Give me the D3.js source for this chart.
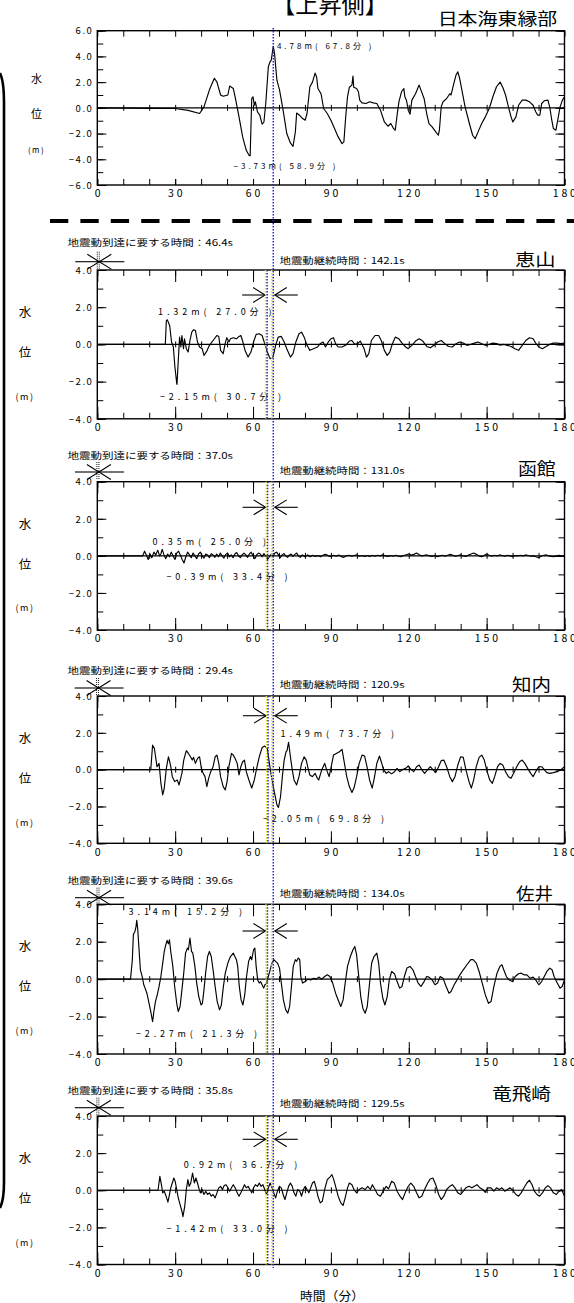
<!DOCTYPE html>
<html>
<head>
<meta charset="utf-8">
<script src="https://cdn.jsdelivr.net/npm/d3@7"></script>
<style>
  body { margin: 0; background: #fff; }
  svg { display: block; }
  text { font-family: "Noto Sans CJK JP", "Noto Sans", sans-serif; fill: #000; }
</style>
</head>
<body>
<script>
// ---- water level series (time [min], level [m]) ----
const levelSource = [[0,0],[10,-0.02],[20,-0.04],[30,-0.05],[35,-0.2],[39.4,-0.44],[41.1,0.08],[43.2,1.4],[45.1,2.3],[46.1,2.0],[47.5,1.0],[48.5,0.9],[50.3,1.0],[51.0,1.7],[52.4,1.5],[53.1,0.86],[54.6,-0.7],[56.0,-2.26],[57.4,-3.3],[58.5,-3.7],[58.9,-3.73],[59.5,0.73],[60.0,0.86],[60.5,0.2],[60.9,0.47],[61.7,-0.3],[62.6,-0.57],[63.5,-1.27],[64.2,-1.1],[64.9,0.34],[65.9,3.2],[66.6,3.6],[67.0,3.7],[67.8,4.78],[68.3,4.2],[69.2,2.15],[70.2,1.4],[71.6,-0.2],[73.0,-2.0],[74.4,-2.73],[75.4,-3.0],[76.3,-1.9],[76.8,-0.4],[77.9,-0.57],[79.1,-0.83],[80.1,-0.96],[80.8,-0.44],[81.9,1.64],[82.9,2.0],[83.9,2.7],[84.5,2.4],[85.0,1.5],[86.2,1.1],[87.2,-0.05],[88.6,-0.44],[90.0,-0.96],[91.4,-1.6],[92.8,-2.26],[94.3,-2.78],[95.0,-2.65],[95.7,-0.7],[96.4,0.86],[97.1,1.6],[98.1,1.77],[98.5,2.47],[98.8,1.6],[99.9,1.5],[100.6,1.25],[101.1,0.6],[102.0,0.39],[103.5,0.34],[104.9,0.47],[106.3,0.39],[107.7,0.34],[109.1,-0.18],[110.6,-1.1],[112.0,-1.43],[113.1,-1.22],[114.1,-1.6],[114.8,-1.74],[115.5,-0.57],[116.2,0.47],[117.2,1.25],[118.1,1.5],[118.5,0.86],[119.1,0.6],[119.8,-0.18],[120.5,-0.49],[121.2,0.6],[122.6,1.1],[124.0,1.77],[124.7,1.38],[125.9,0.73],[126.9,-0.44],[127.8,-1.22],[129.0,-1.48],[130.4,-1.87],[131.4,-2.13],[131.8,-1.74],[132.5,0.08],[133.2,0.47],[134.6,0.73],[135.8,1.1],[136.3,1.0],[137.2,1.77],[138.2,2.55],[138.9,2.8],[139.6,2.3],[140.6,1.25],[141.7,0.08],[143.2,-1.1],[144.6,-2.13],[145.6,-2.4],[146.7,-1.87],[148.1,-1.22],[149.5,-0.7],[151.0,-0.05],[152.4,0.86],[153.8,1.64],[155.2,2.0],[156.2,1.6],[157.3,1.0],[158.4,0.08],[159.4,-0.7],[160.1,-1.1],[161.3,-0.7],[162.3,0.2],[163.7,0.6],[165.1,0.6],[166.5,0.47],[167.9,0.2],[168.9,-0.3],[169.7,-0.57],[170.5,-0.57],[171.2,0.34],[172.2,0.55],[173.6,0.6],[174.3,0.08],[175.0,-0.83],[175.7,-1.6],[176.7,-1.74],[177.4,-0.96],[178.3,0.08],[179.2,0.6],[180,0.86]];

const levelEsan = [[0,0],[26.2,0],[26.6,1.29],[27.0,1.32],[27.9,1.0],[28.6,0.13],[29.3,-0.14],[29.9,-1.2],[30.6,-2.1],[30.7,-2.15],[31.2,-0.86],[31.7,0.39],[32.2,-0.14],[32.6,0.48],[33.2,-0.23],[33.6,0.3],[34.3,-0.23],[35.0,-0.41],[35.7,0.21],[36.4,0.66],[37.1,0.79],[37.8,0.75],[38.6,0.13],[39.4,-0.14],[40.4,-0.23],[41.1,-0.59],[42.2,-0.36],[43.2,-0.05],[44.6,0.21],[46.1,0.48],[46.8,0.43],[47.5,-0.32],[48.5,-0.5],[49.3,0.07],[49.9,0.36],[50.7,0.13],[51.3,0.3],[52.4,0.36],[53.6,0.3],[54.6,0.43],[55.3,0.48],[56.0,0.18],[57.0,-0.36],[58.1,-0.68],[59.2,-0.41],[60.2,0.13],[61.2,0.54],[62.4,0.57],[63.5,0.48],[64.5,0.04],[65.5,-0.41],[66.6,-0.77],[67.7,-0.68],[68.7,-0.05],[69.7,0.39],[70.9,0.43],[72.0,0.13],[73.0,-0.23],[74.4,-0.68],[75.4,-0.5],[76.5,0.13],[77.7,0.57],[78.7,0.66],[79.7,0.39],[80.8,-0.05],[81.9,-0.32],[83.3,-0.23],[84.8,-0.14],[85.9,0.04],[87.0,0.13],[87.9,-0.14],[89.0,0.13],[90.0,0.3],[91.0,0.36],[91.8,0.04],[92.8,-0.14],[94.3,-0.14],[95.7,-0.05],[97.1,0.18],[98.1,0.21],[99.2,0],[100.3,0.04],[101.3,0.18],[102.8,-0.23],[103.7,-0.68],[104.6,-0.5],[105.6,0.21],[107.0,0.48],[108.4,0.48],[109.4,0.21],[110.6,-0.32],[111.7,-0.59],[112.7,-0.41],[113.7,0.04],[114.8,0.39],[116.2,0.3],[117.4,0.07],[118.8,-0.14],[119.8,-0.23],[121.2,-0.05],[122.6,0.18],[124.0,0.3],[125.4,0.18],[126.9,-0.11],[128.3,-0.18],[129.7,-0.05],[131.1,0.13],[132.5,0.21],[133.9,0.04],[135.3,-0.11],[136.8,-0.14],[138.2,0.04],[139.6,0.13],[141.0,0.07],[142.4,-0.05],[143.9,0],[145.3,0.07],[146.7,0.13],[148.1,0.04],[149.5,-0.05],[151.0,0],[152.4,0.07],[153.8,0.04],[155.2,-0.04],[156.6,0],[158.0,-0.05],[159.4,-0.11],[160.9,-0.23],[162.3,-0.32],[163.7,-0.05],[165.1,0.21],[166.5,0.36],[167.9,0.3],[168.9,0.07],[170.1,-0.14],[171.5,-0.23],[172.9,-0.11],[174.3,0],[175.7,0.07],[177.2,0.07],[178.6,0.04],[180,0.07]];

const levelHakodate = [[0,0],[17.5,0],[18.2,0.25],[18.9,0.05],[19.6,-0.2],[20.3,0.1],[21.0,-0.1],[21.8,0.2],[22.5,0.05],[23.3,0.3],[24.0,0.0],[24.5,0.1],[25.0,0.35],[25.7,0.05],[26.4,-0.15],[27.1,0.1],[27.8,-0.05],[28.5,0.2],[29.2,0.0],[29.9,-0.2],[30.6,0.15],[31.3,0.25],[32.0,0.05],[32.7,-0.2],[33.4,-0.39],[34.1,-0.05],[34.8,0.2],[35.5,0.05],[36.2,-0.1],[36.9,0.15],[37.6,0.0],[38.3,-0.15],[39.0,0.1],[39.7,0.2],[40.4,0.0],[41.1,-0.12],[41.8,0.1],[42.5,0.05],[43.2,-0.1],[43.9,0.12],[44.6,0.05],[45.3,-0.08],[46.0,0.1],[46.7,-0.05],[47.4,0.15],[48.1,0.0],[48.8,-0.12],[49.5,0.08],[50.2,0.15],[50.9,-0.05],[51.6,0.05],[52.3,-0.1],[53.0,0.1],[53.7,0.18],[54.4,0.0],[55.1,-0.1],[55.8,0.05],[56.5,0.15],[57.2,0.05],[57.9,-0.08],[58.6,0.1],[59.3,0.2],[60.0,0.0],[60.7,-0.15],[61.4,0.05],[62.1,0.15],[62.8,0.1],[63.5,-0.05],[64.2,0.12],[64.9,0.0],[65.6,-0.2],[66.3,-0.05],[67.0,0.1],[67.7,-0.05],[68.4,0.15],[69.1,0.2],[69.8,0.05],[70.5,-0.1],[71.2,0.05],[71.9,0.12],[72.6,0.0],[73.3,-0.08],[74.0,0.05],[74.7,0.1],[75.4,-0.03],[76.1,0.08],[76.8,0.15],[77.5,0.0],[78.2,-0.08],[79.0,0.05],[80.0,-0.05],[81.0,0.05],[82.0,-0.05],[83.0,0.03],[84.0,-0.04],[85.0,0.02],[86.0,-0.05],[87.0,0.04],[88.0,0.08],[89.0,0.0],[90.0,-0.03],[91.0,0.03],[92.0,-0.02],[93.0,0.04],[94.0,-0.04],[95.0,-0.08],[96.0,0.0],[97.0,0.03],[98.0,-0.02],[99.0,0.02],[100.0,0.05],[101.0,-0.02],[102.0,0.02],[103.0,-0.04],[104.0,0.02],[105.0,-0.03],[106.0,0.03],[107.0,-0.02],[108.0,0.03],[109.0,0.0],[110.0,0.06],[111.0,0.0],[112.0,-0.03],[113.0,0.02],[114.0,-0.02],[115.0,0.03],[116.0,-0.02],[117.0,-0.05],[118.0,0.02],[119.0,0.06],[120.0,0.1],[121.0,0.04],[122.0,0.08],[123.0,0.15],[124.0,0.06],[125.0,0.0],[126.0,0.03],[127.0,0.05],[128.0,0.0],[129.0,-0.03],[130.0,0.02],[131.0,-0.05],[132.0,0.0],[133.0,0.03],[134.0,-0.02],[135.0,0.03],[136.0,0.08],[137.0,0.03],[138.0,-0.02],[139.0,0.02],[140.0,0.05],[141.0,0.0],[142.0,-0.03],[143.0,0.04],[144.0,0.1],[145.0,0.15],[146.0,0.08],[147.0,0.0],[148.0,-0.05],[149.0,0.02],[150.0,0.1],[151.0,0.03],[152.0,-0.02],[153.0,0.03],[154.0,0.0],[155.0,0.05],[156.0,0.02],[157.0,-0.02],[158.0,0.03],[159.0,0.0],[160.0,-0.03],[161.0,0.02],[162.0,0.0],[163.0,0.03],[164.0,0.0],[165.0,0.05],[166.0,0.02],[167.0,-0.02],[168.0,0.0],[169.0,-0.05],[170.0,-0.1],[171.0,-0.02],[172.0,0.03],[173.0,0.05],[174.0,0.0],[175.0,-0.03],[176.0,-0.05],[177.0,0.0],[178.0,0.03],[179.0,-0.02],[180,0.0]];

const levelShiriuchi = [[0,0],[20.6,0],[21.3,1.33],[22.0,1.15],[23.0,0.16],[23.8,0.34],[24.5,-0.74],[25.2,-1.37],[25.8,-1.0],[26.6,0.07],[27.4,0.7],[27.9,0.43],[28.3,0.16],[28.9,-0.38],[29.8,-0.65],[30.8,-0.56],[31.5,-0.83],[32.6,-0.2],[33.3,0.52],[34.3,1.03],[35.1,0.88],[35.9,0.7],[36.6,0.52],[37.1,0.67],[37.8,0.34],[38.6,0.61],[39.4,0.7],[40.1,0.07],[40.8,-0.2],[41.5,-0.38],[42.2,-0.92],[42.9,-0.47],[43.7,-0.11],[44.6,0.16],[45.4,0.7],[46.1,0.79],[46.8,0.34],[47.5,-0.38],[48.5,-0.92],[49.3,-1.1],[50.0,-0.65],[50.7,0.16],[51.7,0.88],[52.4,0.79],[53.1,0.61],[53.9,0.34],[54.6,-0.29],[55.3,0.16],[56.0,0.43],[56.7,0.52],[57.4,-0.11],[58.4,-0.56],[59.5,-1.0],[60.5,-0.56],[61.4,0.07],[62.4,0.7],[63.5,1.2],[64.5,1.28],[65.5,1.15],[66.3,0.34],[67.3,-0.56],[68.3,-1.28],[69.2,-1.91],[69.8,-2.05],[70.6,-1.46],[71.3,-0.38],[72.0,0.52],[72.7,0.97],[73.1,1.03],[73.7,1.49],[74.4,0.7],[75.1,0],[75.8,-0.56],[76.8,-0.83],[77.7,-0.38],[78.7,0.34],[79.7,0.7],[80.5,0.52],[81.2,0.07],[81.9,-0.29],[82.9,-0.38],[83.9,-0.2],[84.8,-0.47],[85.3,-0.56],[86.5,0],[87.6,0.34],[88.6,-0.11],[89.3,-0.38],[90.0,0.07],[91.0,0.79],[92.1,0.88],[93.3,0.97],[94.3,1.1],[95.0,0.52],[96.1,-0.38],[97.1,-0.92],[98.1,-1.24],[98.9,-1.0],[99.9,-0.38],[100.9,0.34],[102.0,0.79],[103.0,0.74],[103.9,0.16],[104.9,-0.56],[105.9,-1.0],[106.7,-0.47],[107.7,0.34],[108.7,0.74],[109.4,0.43],[110.3,0],[111.3,-0.2],[112.2,-0.11],[113.4,-0.23],[114.5,-0.11],[115.5,0.07],[116.5,-0.11],[117.6,0],[118.8,0.07],[119.8,0.2],[120.8,0.02],[121.9,-0.11],[123.0,0.16],[124.0,0.25],[125.0,0],[126.1,-0.2],[127.3,0],[128.3,0.16],[129.3,0],[130.4,-0.16],[131.5,0.16],[132.5,0.49],[133.5,0.52],[134.6,0.16],[135.8,-0.38],[136.8,-0.65],[137.8,-0.38],[138.9,0.25],[140.0,0.7],[141.0,0.67],[142.0,0],[143.2,-0.65],[144.1,-1.0],[145.0,-0.56],[146.0,0.16],[147.1,0.67],[148.1,0.79],[149.1,0.52],[150.2,-0.11],[151.2,-0.56],[152.2,-0.74],[153.1,-0.38],[154.2,0.16],[155.2,0.34],[156.2,0.25],[157.3,-0.11],[158.4,-0.38],[159.4,-0.47],[160.4,-0.2],[161.6,0.16],[162.7,0.43],[163.7,0.52],[164.7,0.34],[165.8,0.07],[167.0,-0.2],[167.9,-0.38],[168.9,-0.11],[170.1,0.16],[171.2,0.16],[172.2,0],[173.2,-0.16],[174.3,-0.2],[175.7,-0.16],[177.2,-0.11],[178.6,0],[180,0.16]];

const levelSai = [[0,0],[12.8,0],[13.5,1.04],[13.9,2.38],[14.5,2.55],[14.9,2.8],[15.2,3.14],[15.6,2.64],[16.0,1.75],[16.6,0.5],[17.3,0.14],[17.9,-0.3],[18.4,-0.48],[19.1,-0.75],[19.8,-1.2],[20.6,-1.73],[21.3,-2.27],[21.8,-1.73],[22.4,-1.2],[23.1,-0.84],[23.8,-0.39],[24.5,0.14],[25.2,0.86],[25.8,1.48],[26.4,1.84],[26.9,2.07],[27.4,1.89],[27.8,2.1],[28.3,1.48],[29.1,0.68],[29.8,-0.39],[30.6,-1.29],[31.2,-1.73],[31.9,-1.46],[32.6,-0.57],[33.3,0.32],[34.0,1.39],[34.7,1.66],[35.1,1.57],[35.7,2.2],[36.3,1.48],[36.8,1.39],[37.6,0.68],[38.3,-0.21],[39.1,-0.93],[40.0,-1.38],[40.5,-1.29],[41.1,-0.57],[41.8,0.41],[42.5,1.21],[43.2,1.48],[43.9,1.21],[44.6,0.5],[45.4,-0.39],[46.2,-1.2],[47.1,-1.64],[47.8,-1.38],[48.5,-0.48],[49.3,0.32],[50.3,0.86],[51.3,1.21],[52.4,1.39],[53.6,1.04],[54.1,0.68],[54.7,-0.39],[55.4,-1.11],[56.1,-1.38],[56.8,-0.84],[57.5,0.14],[58.3,0.95],[59.0,1.21],[59.5,1.04],[60.2,1.57],[60.7,1.66],[61.2,0.68],[61.8,-0.04],[62.4,-0.21],[62.9,-0.13],[63.5,-0.3],[64.1,-0.48],[64.6,-0.3],[65.2,-0.21],[65.9,0.14],[66.6,0.5],[67.3,0.86],[68.0,1.04],[68.7,0.95],[69.4,0.86],[70.2,0.59],[70.9,-0.21],[71.7,-1.11],[72.6,-1.64],[73.4,-1.82],[74.1,-1.46],[74.8,-0.39],[75.5,0.68],[76.3,1.04],[76.8,0.95],[77.4,1.13],[78.0,1.04],[78.4,0.14],[79.1,-0.21],[80.1,-0.13],[81.1,0],[82.2,-0.04],[83.3,0.05],[84.3,0],[85.3,0.11],[86.5,0],[87.6,0.14],[88.6,0.23],[89.6,0.14],[90.7,-0.21],[91.8,-0.75],[92.8,-1.11],[93.8,-1.46],[94.7,-1.11],[95.5,-0.21],[96.4,0.68],[97.5,1.21],[98.5,1.57],[99.2,1.75],[99.9,1.3],[100.6,0.32],[101.5,-0.93],[102.3,-1.55],[103.2,-1.82],[104.0,-1.46],[104.9,-0.21],[105.7,0.86],[106.6,1.21],[107.7,1.39],[108.4,0.86],[109.1,-0.21],[110.0,-1.02],[110.8,-1.38],[111.7,-0.93],[112.5,-0.04],[113.4,0.41],[114.5,0.29],[115.5,-0.13],[116.5,-0.48],[117.4,-0.39],[118.3,0.14],[119.3,0.59],[120.5,0.68],[121.6,0.5],[122.6,0.14],[123.6,-0.21],[124.7,-0.39],[125.9,-0.13],[126.9,0.14],[127.8,0.11],[129.0,-0.04],[130.1,-0.3],[131.1,-0.21],[132.1,0.14],[133.2,0.05],[134.4,-0.39],[135.5,-0.75],[136.3,-0.66],[137.5,-0.3],[138.6,-0.04],[139.7,0.23],[141.0,0.5],[142.4,0.77],[143.9,1.04],[144.8,1.04],[146.0,0.86],[147.1,0.41],[148.3,-0.21],[149.5,-0.84],[150.7,-1.29],[151.7,-1.2],[152.8,-0.39],[154.0,0.32],[155.1,0.68],[155.9,0.77],[156.6,0.5],[157.6,0.14],[158.7,-0.04],[159.9,-0.13],[161.0,0.14],[162.3,0.29],[163.3,0.32],[164.4,0.23],[165.5,0.23],[166.7,0.05],[167.9,0.11],[168.9,-0.04],[170.1,-0.3],[171.2,-0.13],[172.2,0.14],[173.2,0.41],[174.3,0.59],[175.2,0.5],[176.0,0.14],[177.2,-0.21],[178.3,-0.48],[179.1,-0.39],[180,-0.04]];

const levelTappi = [[0,0],[23.4,0],[24.1,0.75],[24.7,0.3],[25.2,-0.14],[25.8,-0.05],[26.5,-0.32],[27.2,-0.64],[27.8,-0.23],[28.3,0.13],[28.9,0.39],[29.5,0.66],[30.0,0.48],[30.6,0.04],[31.2,-0.41],[31.9,-0.77],[32.6,-1.13],[33.0,-1.42],[33.7,-0.86],[34.3,0.04],[34.9,0.57],[35.4,0.21],[36.0,0.39],[36.7,0.92],[37.4,0.39],[38.0,0.66],[38.6,0.39],[39.1,0.13],[39.7,-0.14],[40.4,0.04],[41.1,-0.23],[41.8,-0.05],[42.5,-0.23],[43.2,-0.14],[43.9,-0.32],[44.6,-0.23],[45.4,-0.41],[46.1,-0.14],[46.8,0.13],[47.5,0.21],[48.2,0.04],[48.9,0.25],[49.6,0.3],[50.3,0.13],[51.0,-0.05],[51.7,0.13],[52.4,0.3],[53.1,0.13],[53.9,-0.14],[54.6,-0.32],[55.3,-0.14],[56.0,0.07],[56.7,0.3],[57.4,0.13],[58.1,0.21],[58.8,0.04],[59.5,-0.14],[60.2,0.13],[60.9,0.3],[61.7,0.21],[62.4,0.39],[63.1,0.21],[63.8,0.3],[64.5,0.04],[65.2,-0.23],[65.9,0.13],[66.6,0.39],[67.3,0.13],[68.0,-0.14],[68.7,-0.41],[69.4,-0.05],[70.2,0.21],[70.9,0.13],[71.6,-0.23],[72.3,-0.5],[73.0,-0.14],[73.7,0.21],[74.4,0.39],[75.1,0.21],[75.8,-0.14],[76.5,-0.32],[77.2,0.04],[78.0,-0.05],[78.7,-0.32],[79.4,0.04],[80.1,0.21],[80.8,0.04],[81.5,-0.14],[82.2,0.13],[82.9,0.39],[83.6,0.48],[84.3,0.13],[85.0,-0.32],[85.9,-0.68],[86.7,-0.59],[87.6,0.04],[88.6,0.57],[89.6,0.71],[90.4,0.84],[91.1,0.57],[91.8,0.21],[92.8,-0.32],[93.8,-0.68],[94.7,-0.82],[95.5,-0.41],[96.4,0.13],[97.1,0.39],[98.1,0.3],[98.9,0.04],[99.9,-0.14],[100.9,0.04],[102.0,0.13],[103.2,0.04],[104.2,0.21],[105.2,0.04],[106.0,0.3],[107.0,0.04],[108.0,-0.23],[109.1,-0.32],[110.1,-0.05],[111.3,0.21],[112.2,0.07],[113.4,0.48],[114.4,0.39],[115.5,-0.05],[116.6,-0.32],[117.6,-0.5],[118.6,-0.14],[119.8,0.21],[120.8,0.39],[121.9,0.21],[123.0,-0.14],[124.0,-0.41],[125.0,-0.32],[126.1,0.04],[127.3,0.39],[128.3,0.61],[129.3,0.66],[130.4,0.3],[131.5,-0.23],[132.5,-0.5],[133.5,-0.32],[134.6,0.04],[135.8,0.21],[136.8,0.3],[137.8,0.13],[138.9,-0.14],[140.0,-0.23],[141.0,-0.05],[142.0,0.13],[143.2,0.21],[144.3,0.13],[145.3,0.21],[146.3,0.3],[147.4,0.13],[148.5,0.04],[149.5,-0.11],[150.5,0.13],[151.7,0.13],[152.8,-0.05],[153.8,0.13],[154.8,0.04],[155.9,0.13],[157.0,-0.05],[158.0,0.04],[159.0,0.13],[160.1,0],[161.3,-0.23],[162.3,-0.32],[163.3,-0.14],[164.4,0.13],[165.5,0.39],[166.5,0.54],[167.5,0.3],[168.4,-0.05],[169.4,-0.23],[170.4,-0.32],[171.5,-0.14],[172.6,0.13],[173.6,0.25],[174.6,0.13],[175.7,-0.14],[176.9,-0.23],[177.9,-0.05],[178.9,0.04],[180,-0.32]];

// ---- labels and annotated values ----
const stationNames = ["恵山", "函館", "知内", "佐井", "竜飛崎"];
const arrivalSec = [46.4, 37.0, 29.4, 39.6, 35.8];
const durationSec = [142.1, 131.0, 120.9, 134.0, 129.5];
const maxLevel = [1.32, 0.35, 1.49, 3.14, 0.92];
const maxTime = [27.0, 25.0, 73.7, 15.2, 36.7];
const minLevel = [-2.15, -0.39, -2.05, -2.27, -1.42];
const minTime = [30.7, 33.4, 69.8, 21.3, 33.0];
const sourceMax = [4.78, 67.8];
const sourceMin = [-3.73, 58.9];
const timeTicks = [0, 30, 60, 90, 120, 150, 180];
const peakTime = 67.8;

const stationSeries = [levelEsan, levelHakodate, levelShiriuchi, levelSai, levelTappi];

// ---- page geometry ----
const W = 574, H = 1303;
const svg = d3.select("body").append("svg").attr("width", W).attr("height", H);
const x = d3.scaleLinear().domain([0, 180]).range([97.3, 564.5]);
const X0 = x.range()[0], X1 = x.range()[1];

// station panel frames and text anchors
const frames = [
  {top: 270.0, bottom: 418.8, durArrowY: 295.0, arrArrowY: 261.7, arrTextY: 246.0, durTextY: 263.5, nameY: 265.5, nameX: 514.9, nameW: 40.5,
   maxAt: [158.0, 315.0], minAt: [160.0, 400.0]},
  {top: 481.7, bottom: 630.0, durArrowY: 507.3, arrArrowY: 472.0, arrTextY: 459.0, durTextY: 474.0, nameY: 474.5, nameX: 518.0, nameW: 37.6,
   maxAt: [152.5, 545.0], minAt: [166.5, 580.0]},
  {top: 696.0, bottom: 843.3, durArrowY: 715.7, arrArrowY: 688.0, arrTextY: 674.0, durTextY: 688.0, nameY: 690.5, nameX: 512.0, nameW: 39.0,
   maxAt: [280.6, 737.0], minAt: [263.0, 822.0]},
  {top: 904.3, bottom: 1054.0, durArrowY: 931.0, arrArrowY: 897.7, arrTextY: 884.0, durTextY: 897.0, nameY: 900.0, nameX: 516.0, nameW: 37.0,
   maxAt: [128.6, 915.0], minAt: [136.0, 1037.0]},
  {top: 1116.0, bottom: 1264.5, durArrowY: 1139.3, arrArrowY: 1107.7, arrTextY: 1094.0, durTextY: 1107.0, nameY: 1100.0, nameX: 492.0, nameW: 59.0,
   maxAt: [183.7, 1168.0], minAt: [166.5, 1232.0]}
];

const fmt1 = d3.format(".1f");
const fmt2 = d3.format(".2f");
const monoFont = "'Liberation Mono','DejaVu Sans Mono',monospace";

function styleAxisText(g, size, spacing) {
  g.selectAll("text")
    .attr("font-family", monoFont)
    .attr("font-size", size)
    .attr("letter-spacing", spacing)
    .attr("fill", "#000");
}

function drawFrame(g, y, lim, majorX) {
  const t = y.range()[1], b = y.range()[0];
  const minorY = d3.range(-lim, lim + 0.001, 1);
  const majorY = d3.range(-lim, lim + 0.001, 2);
  const minorX = d3.range(0, 180.001, 10);
  const clean = s => s.select(".domain").remove();

  // left axis: minor and labelled major ticks
  g.append("g").attr("transform", `translate(${X0},0)`)
    .call(d3.axisLeft(y).tickValues(minorY).tickSize(-6).tickFormat("")).call(clean);
  const left = g.append("g").attr("transform", `translate(${X0},0)`)
    .call(d3.axisLeft(y).tickValues(majorY).tickSize(-9).tickPadding(4).tickFormat(fmt1)).call(clean);
  styleAxisText(left, 9.5, 1.5);
  left.selectAll("text").attr("dy", "0.34em");

  // right axis
  g.append("g").attr("transform", `translate(${X1},0)`)
    .call(d3.axisRight(y).tickValues(minorY).tickSize(-6).tickFormat("")).call(clean);
  g.append("g").attr("transform", `translate(${X1},0)`)
    .call(d3.axisRight(y).tickValues(majorY).tickSize(-9).tickFormat("")).call(clean);

  // top and bottom axes
  g.append("g").attr("transform", `translate(0,${t})`)
    .call(d3.axisTop(x).tickValues(minorX).tickSize(-6).tickFormat("")).call(clean);
  g.append("g").attr("transform", `translate(0,${b})`)
    .call(d3.axisBottom(x).tickValues(minorX).tickSize(-6).tickFormat("")).call(clean);
  if (majorX) {
    g.append("g").attr("transform", `translate(0,${t})`)
      .call(d3.axisTop(x).tickValues(timeTicks).tickSize(-12).tickFormat("")).call(clean);
  }
  const bottom = g.append("g").attr("transform", `translate(0,${b})`)
    .call(d3.axisBottom(x).tickValues(timeTicks).tickSize(majorX ? -12 : -6).tickPadding(5).tickFormat(d3.format("d"))).call(clean);
  styleAxisText(bottom, 10.5, 2.9);
  bottom.selectAll("text").attr("text-anchor", "start").attr("dx", function(d) {
    return -(String(d).length * 9.2 - 2.9) / 2;
  });

  // zero line with small crossing ticks
  g.append("line").attr("x1", X0).attr("x2", X1).attr("y1", y(0)).attr("y2", y(0))
    .attr("stroke", "#000").attr("stroke-width", 1.1);
  g.append("g").attr("transform", `translate(0,${y(0) - 3})`)
    .call(d3.axisBottom(x).tickValues(d3.range(10, 171, 10)).tickSize(6).tickFormat("")).call(clean);

  g.selectAll(".tick line").attr("stroke", "#000").attr("stroke-width", 1);

  // plot frame
  g.append("rect").attr("x", X0).attr("y", t).attr("width", X1 - X0).attr("height", b - t)
    .attr("fill", "none").attr("stroke", "#000").attr("stroke-width", 1.4);
}

function drawSeries(g, y, series, id) {
  const t = y.range()[1], b = y.range()[0];
  svg.append("clipPath").attr("id", id)
    .append("rect").attr("x", X0).attr("y", t).attr("width", X1 - X0).attr("height", b - t);
  const line = d3.line().x(d => x(d[0])).y(d => y(d[1]));
  g.append("path").datum(series).attr("d", line).attr("clip-path", `url(#${id})`)
    .attr("fill", "none").attr("stroke", "#000").attr("stroke-width", 1.15).attr("stroke-linejoin", "round");
}

function peakLabel(g, level, time, at, size, width) {
  g.append("text").attr("x", at[0]).attr("y", at[1])
    .attr("font-family", monoFont + ",'Noto Sans CJK JP'")
    .attr("font-size", size)
    .attr("textLength", width).attr("lengthAdjust", "spacing")
    .text(`${fmt2(level)}m( ${fmt1(time)}分 )`);
}

function yAxisTitle(g, cx, ys, size) {
  g.append("text").attr("x", cx).attr("y", ys[0]).attr("text-anchor", "middle").attr("font-size", size).text("水");
  g.append("text").attr("x", cx).attr("y", ys[1]).attr("text-anchor", "middle").attr("font-size", size).text("位");
  g.append("text").attr("x", cx).attr("y", ys[2]).attr("text-anchor", "middle").attr("font-size", size * 0.72)
    .attr("letter-spacing", 1.5).text("(m)");
}

function arrow(g, tipX, y, dir, len, head) {
  // dir = +1 arrow pointing right, -1 pointing left
  const tail = tipX - dir * len;
  g.append("line").attr("x1", tail).attr("x2", tipX).attr("y1", y).attr("y2", y);
  g.append("polyline").attr("points", `${tipX - dir * head},${y - head * 0.62} ${tipX},${y} ${tipX - dir * head},${y + head * 0.62}`)
    .attr("fill", "none");
}

// ---- title block ----
svg.append("text").attr("x", 272).attr("y", 13).attr("font-size", 24)
  .attr("textLength", 116).attr("lengthAdjust", "spacingAndGlyphs").text("【上昇側】");
svg.append("text").attr("x", 437.7).attr("y", 24.5).attr("font-size", 16.5)
  .attr("textLength", 119.6).attr("lengthAdjust", "spacingAndGlyphs").text("日本海東縁部");

// ---- source region panel ----
const ySrc = d3.scaleLinear().domain([-6, 6]).range([185, 30.7]);
const gSrc = svg.append("g");
drawFrame(gSrc, ySrc, 6, false);
drawSeries(gSrc, ySrc, levelSource, "clip-src");
peakLabel(gSrc, sourceMax[0], sourceMax[1], [276.9, 49], 8, 94.6);
peakLabel(gSrc, sourceMin[0], sourceMin[1], [233.5, 169], 8, 102);
yAxisTitle(gSrc, 36.5, [83, 118, 153], 11);

// separator between the source and station panels
svg.append("line").attr("x1", 50).attr("x2", W).attr("y1", 221).attr("y2", 221)
  .attr("stroke", "#000").attr("stroke-width", 4.2).attr("stroke-dasharray", "18.3 12.1");

// bracket grouping the station panels
svg.append("path").attr("d", "M0,73 C3,79 4,88 4,102 L4,1182 C4,1196 3,1202 0,1208")
  .attr("fill", "none").attr("stroke", "#000").attr("stroke-width", 2.6);

// ---- station panels ----
frames.forEach((f, i) => {
  const y = d3.scaleLinear().domain([-4, 4]).range([f.bottom, f.top]);
  const g = svg.append("g");
  drawFrame(g, y, 4, true);
  drawSeries(g, y, stationSeries[i], `clip-st${i}`);
  peakLabel(g, maxLevel[i], maxTime[i], f.maxAt, 9, 113.5);
  peakLabel(g, minLevel[i], minTime[i], f.minAt, 9, 121);
  yAxisTitle(g, 25, [f.top + 47, f.top + 87, f.top + 129.5], 12.5);

  // station name
  g.append("text").attr("x", f.nameX).attr("y", f.nameY).attr("font-size", 17)
    .attr("textLength", f.nameW).attr("lengthAdjust", "spacingAndGlyphs").text(stationNames[i]);

  // ground-motion arrival time
  g.append("text").attr("x", 67.5).attr("y", f.arrTextY).attr("font-size", 9)
    .attr("textLength", 165.5).attr("lengthAdjust", "spacingAndGlyphs")
    .text(`地震動到達に要する時間：${fmt1(arrivalSec[i])}s`);
  const ax = x(arrivalSec[i] / 60);
  const ga = g.append("g").attr("stroke", "#000").attr("stroke-width", 1.1);
  arrow(ga, ax, f.arrArrowY, 1, 24, 12);
  arrow(ga, ax, f.arrArrowY, -1, 25, 12);
  [ax - 2, ax].forEach(px => {
    g.append("line").attr("x1", px).attr("x2", px).attr("y1", f.arrArrowY - 10).attr("y2", f.arrArrowY + 7)
      .attr("stroke", "#000").attr("stroke-width", 0.9).attr("stroke-dasharray", "1 1");
  });

  // ground-motion duration
  g.append("text").attr("x", 279.5).attr("y", f.durTextY).attr("font-size", 9)
    .attr("textLength", 125).attr("lengthAdjust", "spacingAndGlyphs")
    .text(`地震動継続時間：${fmt1(durationSec[i])}s`);
  const startX = x(peakTime - durationSec[i] / 60);
  const gd = g.append("g").attr("stroke", "#000").attr("stroke-width", 1.1);
  arrow(gd, startX - 2, f.durArrowY, 1, 23, 12);
  arrow(gd, x(peakTime) + 1.5, f.durArrowY, -1, 23, 12);

  // start of the duration window
  g.append("line").attr("x1", startX - 1.5).attr("x2", startX - 1.5).attr("y1", f.top).attr("y2", f.bottom)
    .attr("stroke", "#f2e600").attr("stroke-width", 1.6).attr("stroke-dasharray", "1.5 1.5");
  g.append("line").attr("x1", startX).attr("x2", startX).attr("y1", f.top).attr("y2", f.bottom)
    .attr("stroke", "#2323e6").attr("stroke-width", 1.5).attr("stroke-dasharray", "1.5 1.5");
  g.append("line").attr("x1", x(peakTime) - 1.6).attr("x2", x(peakTime) - 1.6).attr("y1", f.top).attr("y2", f.bottom)
    .attr("stroke", "#f2e600").attr("stroke-width", 1.6).attr("stroke-dasharray", "1.5 1.5");
});

// time of the source peak, carried through every panel
svg.append("line").attr("x1", x(peakTime)).attr("x2", x(peakTime)).attr("y1", 28).attr("y2", 1268)
  .attr("stroke", "#2323e6").attr("stroke-width", 1.5).attr("stroke-dasharray", "1.5 1.5");

// x-axis title
svg.append("text").attr("x", 300).attr("y", 1301).attr("font-size", 12)
  .attr("textLength", 64).attr("lengthAdjust", "spacingAndGlyphs").text("時間（分）");
</script>
</body>
</html>
